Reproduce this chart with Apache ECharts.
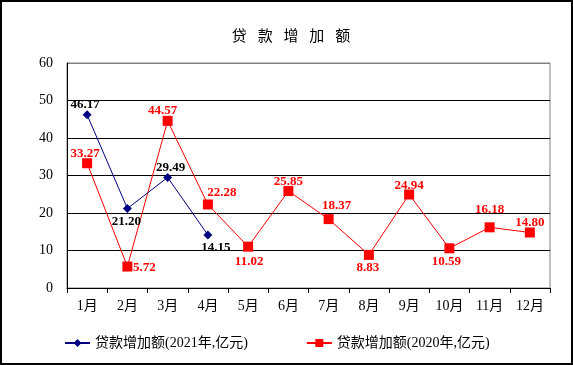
<!DOCTYPE html>
<html>
<head>
<meta charset="utf-8">
<script src="https://cdn.jsdelivr.net/npm/echarts@6/dist/echarts.min.js"></script>
<style>
html,body{margin:0;padding:0;background:#fff;}
#c{width:573px;height:365px;}
</style>
</head>
<body>
<div id="c"></div>
<script>
var titleText = '贷\u2002 款\u2002 增\u2002 加\u2002 额';
var categories = ['1月','2月','3月','4月','5月','6月','7月','8月','9月','10月','11月','12月'];
var name2021 = '贷款增加额(2021年,亿元)';
var name2020 = '贷款增加额(2020年,亿元)';
var values2021 = [46.17, 21.20, 29.49, 14.15];
var values2020 = [33.27, 5.72, 44.57, 22.28, 11.02, 25.85, 18.37, 8.83, 24.94, 10.59, 16.18, 14.80];
var yTicks = [0, 10, 20, 30, 40, 50, 60];

// label placement (style only)
var offsets2021 = [[-2,-10],[-1,13],[3,-10],[8,13]];
var offsets2020 = [[-2,-10],[17,1],[-5,-10],[14,-12],[1,15],[0,-9],[8,-13],[-1,13],[0,-9],[-3,13],[0,-18],[0,-10]];

var serif = "'Times New Roman','Liberation Serif','Noto Sans CJK SC'";

function build(vals, offs, color) {
  return vals.map(function (v, i) {
    return {
      value: v,
      label: {
        show: true,
        position: 'inside',
        offset: offs[i],
        formatter: function (p) { return p.value.toFixed(2); },
        color: color,
        fontFamily: serif,
        fontWeight: 'bold',
        fontSize: 13
      }
    };
  });
}

var chart = echarts.init(document.getElementById('c'), null, {renderer: 'canvas'});
chart.setOption({
  animation: false,
  backgroundColor: '#fff',
  graphic: [
    {type: 'rect', shape: {x: 1, y: 1, width: 571, height: 363}, style: {fill: 'none', stroke: '#000', lineWidth: 2}, z: 100},
    {type: 'text', x: 291, y: 35, style: {text: titleText, textAlign: 'center', textVerticalAlign: 'middle', font: "15px 'Noto Sans CJK SC'", fill: '#000'}}
  ],
  grid: {left: 67, right: 23, top: 63, bottom: 77, show: true, borderColor: '#808080', borderWidth: 1, backgroundColor: '#fff'},
  legend: {
    left: 64, top: 336, padding: 0, itemWidth: 25, itemHeight: 10, itemGap: 58,
    textStyle: {fontFamily: serif, fontSize: 14, color: '#000'},
    data: [{name: name2021}, {name: name2020}]
  },
  xAxis: {
    type: 'category', data: categories, boundaryGap: true,
    axisLine: {lineStyle: {color: '#000', width: 1}},
    axisTick: {show: true, length: 5, lineStyle: {color: '#000'}},
    axisLabel: {fontFamily: serif, fontSize: 14, color: '#000', margin: 11}
  },
  yAxis: {
    type: 'value', min: yTicks[0], max: yTicks[yTicks.length - 1], interval: yTicks[1] - yTicks[0],
    axisLine: {show: true, lineStyle: {color: '#000', width: 1}},
    axisTick: {show: false},
    axisLabel: {fontFamily: serif, fontSize: 14, color: '#000', margin: 14},
    splitLine: {show: true, lineStyle: {color: ['#000','#000','#000','#000','#000','#000','#808080'], width: 1}}
  },
  series: [
    {
      name: name2021, type: 'line', data: build(values2021, offsets2021, '#000'),
      symbol: 'diamond', symbolSize: 9, color: '#000080',
      lineStyle: {color: '#000080', width: 1}, itemStyle: {color: '#000080'}, z: 3
    },
    {
      name: name2020, type: 'line', data: build(values2020, offsets2020, '#ff0000'),
      symbol: 'rect', symbolSize: 10, color: '#ff0000',
      lineStyle: {color: '#ff0000', width: 1}, itemStyle: {color: '#ff0000'}, z: 2
    }
  ]
});
</script>
</body>
</html>
